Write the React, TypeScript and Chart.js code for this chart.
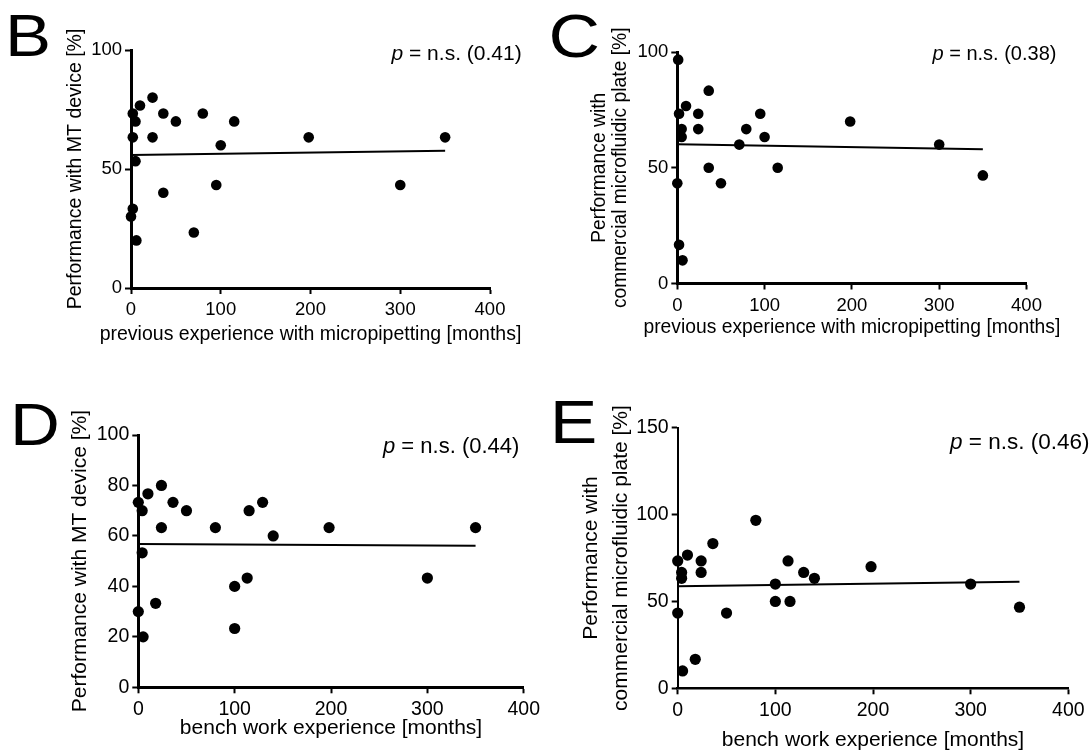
import React, { useEffect, useRef } from "react";
import { Chart, registerables } from "chart.js";
Chart.register(...registerables);

const FONT = "'Liberation Sans', Arial, Helvetica, sans-serif";

// ---- Data (months of experience vs. performance %) ----
const bMonths = [2, 10, 24, 5, 2, 24, 36, 50, 80, 115, 100, 198, 350, 5, 95, 300, 36, 2, 0, 6, 70];
const bPerf = [73.3, 76.7, 80, 70, 63.3, 63.3, 73.3, 70, 73.3, 70, 60, 63.3, 63.3, 53.3, 43.3, 43.3, 40, 33.3, 30, 20, 23.3];
const bFitX = [0, 350];
const bFitY = [55.9, 57.7];

const cMonths = [1, 36, 10, 2, 24, 95, 198, 5, 24, 79, 5, 100, 71, 300, 36, 115, 50, 0, 350, 2, 6];
const cPerf = [96.7, 83.3, 76.7, 73.3, 73.3, 73.3, 70, 66.7, 66.7, 66.7, 63.3, 63.3, 60, 60, 50, 50, 43.3, 43.3, 46.7, 16.7, 10];
const cFitX = [0, 350];
const cFitY = [60.1, 58.0];

const dMonths = [0, 10, 24, 4, 24, 36, 50, 80, 115, 129, 140, 198, 350, 4, 113, 300, 100, 18, 0, 5, 100];
const dPerf = [73.3, 76.7, 80, 70, 63.3, 73.3, 70, 63.3, 70, 73.3, 60, 63.3, 63.3, 53.3, 43.3, 43.3, 40, 33.3, 30, 20, 23.3];
const dFitX = [0, 350];
const dFitY = [56.8, 56.1];

const eMonths = [80, 36, 10, 0, 24, 113, 4, 24, 129, 4, 140, 198, 100, 300, 100, 115, 50, 0, 350, 18, 5];
const ePerf = [96.7, 83.3, 76.7, 73.3, 73.3, 73.3, 66.7, 66.7, 66.7, 63.3, 63.3, 70, 60, 60, 50, 50, 43.3, 43.3, 46.7, 16.7, 10];
const eFitX = [0, 350];
const eFitY = [58.7, 61.4];

const xTitleMicro = "previous experience with micropipetting [months]";
const xTitleBench = "bench work experience [months]";
const yTitleMT = ["Performance with MT device [%]"];
const yTitlePlate = ["Performance with", "commercial microfluidic plate [%]"];

type Panel = {
  letter: string;
  pText: string;
  months: number[];
  perf: number[];
  fitX: number[];
  fitY: number[];
  xTitle: string;
  yTitle: string[];
  yMax: number;
  yStep: number;
  // layout (canvas-relative)
  cx: number; cy: number; w: number; h: number;
  left: number; right: number; top: number; bottom: number;
  tickSize: number; titleSize: number;
  yTitleX: number[]; xTitleY: number;
  pSize: number; pX: number; pY: number;
  letterSize: number; letterX: number; letterY: number;
  axisW: number; xAxisW: number; radius: number;
};

const panels: Panel[] = [
  {
    letter: "B", pText: " = n.s. (0.41)", months: bMonths, perf: bPerf, fitX: bFitX, fitY: bFitY,
    xTitle: xTitleMicro, yTitle: yTitleMT, yMax: 100, yStep: 50,
    cx: 0, cy: 0, w: 545, h: 380, left: 131, right: 490, top: 50, bottom: 288,
    tickSize: 18.5, titleSize: 19.5, yTitleX: [75.8], xTitleY: 335,
    pSize: 21, pX: 391.5, pY: 54, letterSize: 60, letterX: 5, letterY: 56,
    axisW: 3, xAxisW: 3, radius: 5.3,
  },
  {
    letter: "C", pText: " = n.s. (0.38)", months: cMonths, perf: cPerf, fitX: cFitX, fitY: cFitY,
    xTitle: xTitleMicro, yTitle: yTitlePlate, yMax: 100, yStep: 50,
    cx: 545, cy: 0, w: 546, h: 380, left: 132.3, right: 481.5, top: 52, bottom: 283.5,
    tickSize: 18.5, titleSize: 19.3, yTitleX: [54.7, 75.6], xTitleY: 328,
    pSize: 20, pX: 387.5, pY: 54, letterSize: 62, letterX: 3.6, letterY: 57,
    axisW: 3, xAxisW: 3, radius: 5.3,
  },
  {
    letter: "D", pText: " = n.s. (0.44)", months: dMonths, perf: dPerf, fitX: dFitX, fitY: dFitY,
    xTitle: xTitleBench, yTitle: yTitleMT, yMax: 100, yStep: 20,
    cx: 0, cy: 380, w: 545, h: 373, left: 138.3, right: 527.6, top: 55, bottom: 307.3,
    tickSize: 19.5, titleSize: 21, yTitleX: [80], xTitleY: 348,
    pSize: 22, pX: 383, pY: 66.7, letterSize: 60, letterX: 10, letterY: 65,
    axisW: 3, xAxisW: 3, radius: 5.6,
  },
  {
    letter: "E", pText: " = n.s. (0.46)", months: eMonths, perf: ePerf, fitX: eFitX, fitY: eFitY,
    xTitle: xTitleBench, yTitle: yTitlePlate, yMax: 150, yStep: 50,
    cx: 545, cy: 380, w: 546, h: 373, left: 132.7, right: 523.3, top: 47.7, bottom: 308.3,
    tickSize: 19.5, titleSize: 21, yTitleX: [46, 76], xTitleY: 360,
    pSize: 22.5, pX: 405, pY: 63, letterSize: 62, letterX: 4.8, letterY: 63.3,
    axisW: 2, xAxisW: 2.5, radius: 5.6,
  },
];

function PanelChart({ p }: { p: Panel }) {
  const ref = useRef<HTMLCanvasElement | null>(null);
  useEffect(() => {
    if (!ref.current) return;
    const annot = {
      id: "annot" + p.letter,
      afterDraw(chart: any) {
        const ctx = chart.ctx as CanvasRenderingContext2D;
        const area = chart.chartArea;
        // panel letter
        ctx.save();
        ctx.fillStyle = "#000";
        ctx.font = `normal ${p.letterSize}px ${FONT}`;
        ctx.textBaseline = "alphabetic";
        ctx.textAlign = "left";
        ctx.translate(p.letterX, p.letterY);
        ctx.scale(1.15, 1);
        ctx.fillText(p.letter, 0, 0);
        ctx.restore();
        // p value
        ctx.save();
        ctx.fillStyle = "#000";
        ctx.textBaseline = "middle";
        ctx.textAlign = "left";
        ctx.font = `italic ${p.pSize}px ${FONT}`;
        ctx.fillText("p", p.pX, p.pY);
        const wp = ctx.measureText("p").width;
        ctx.font = `normal ${p.pSize}px ${FONT}`;
        ctx.fillText(p.pText, p.pX + wp, p.pY);
        ctx.restore();
        // x-axis title
        ctx.save();
        ctx.fillStyle = "#000";
        ctx.font = `normal ${p.titleSize}px ${FONT}`;
        ctx.textBaseline = "middle";
        ctx.textAlign = "center";
        ctx.fillText(p.xTitle, (area.left + area.right) / 2, p.xTitleY);
        ctx.restore();
        // y-axis title (rotated)
        const cyMid = (area.top + area.bottom) / 2;
        p.yTitle.forEach((line, i) => {
          ctx.save();
          ctx.fillStyle = "#000";
          ctx.font = `normal ${p.titleSize}px ${FONT}`;
          ctx.textBaseline = "middle";
          ctx.textAlign = "center";
          ctx.translate(p.yTitleX[i], cyMid);
          ctx.rotate(-Math.PI / 2);
          ctx.fillText(line, 0, 0);
          ctx.restore();
        });
      },
    };
    const chart = new Chart(ref.current, {
      type: "scatter",
      data: {
        datasets: [
          {
            data: p.months.map((m, i) => ({ x: m, y: p.perf[i] })),
            pointRadius: p.radius,
            pointBackgroundColor: "#000",
            pointBorderWidth: 0,
            borderWidth: 0,
            clip: false as any,
          },
          {
            data: p.fitX.map((m, i) => ({ x: m, y: p.fitY[i] })),
            showLine: true,
            pointRadius: 0,
            borderColor: "#000",
            borderWidth: 2,
            clip: false as any,
          } as any,
        ],
      },
      options: {
        animation: false,
        responsive: false,
        devicePixelRatio: 1,
        events: [],
        layout: { padding: { left: 0, top: p.top, right: p.w - p.right, bottom: 0 } },
        plugins: { legend: { display: false }, tooltip: { enabled: false } },
        scales: {
          x: {
            type: "linear",
            position: "bottom",
            min: 0,
            max: 400,
            ticks: { stepSize: 100, color: "#000", font: { family: FONT, size: p.tickSize }, padding: 5, maxRotation: 0 },
            grid: { display: true, drawOnChartArea: false, drawTicks: true, tickLength: 6, tickWidth: 2, tickColor: "#000" },
            border: { display: true, color: "#000", width: p.xAxisW },
            title: { display: false },
            afterFit(s: any) {
              s.height = p.h - p.bottom;
            },
          },
          y: {
            type: "linear",
            position: "left",
            min: 0,
            max: p.yMax,
            ticks: { stepSize: p.yStep, color: "#000", font: { family: FONT, size: p.tickSize }, padding: 3 },
            grid: { display: true, drawOnChartArea: false, drawTicks: true, tickLength: 6, tickWidth: 2, tickColor: "#000" },
            border: { display: true, color: "#000", width: p.axisW },
            title: { display: false },
            afterFit(s: any) {
              s.width = p.left;
            },
          },
        },
      } as any,
      plugins: [annot],
    });
    return () => chart.destroy();
  }, [p]);
  return (
    <canvas
      ref={ref}
      width={p.w}
      height={p.h}
      style={{ position: "absolute", left: p.cx, top: p.cy, width: p.w, height: p.h }}
    />
  );
}

export default function App() {
  useEffect(() => {
    document.body.style.margin = "0";
    document.body.style.background = "#fff";
  }, []);
  return (
    <div style={{ position: "relative", width: 1091, height: 753, background: "#fff", overflow: "hidden" }}>
      {panels.map((p) => (
        <PanelChart key={p.letter} p={p} />
      ))}
    </div>
  );
}
